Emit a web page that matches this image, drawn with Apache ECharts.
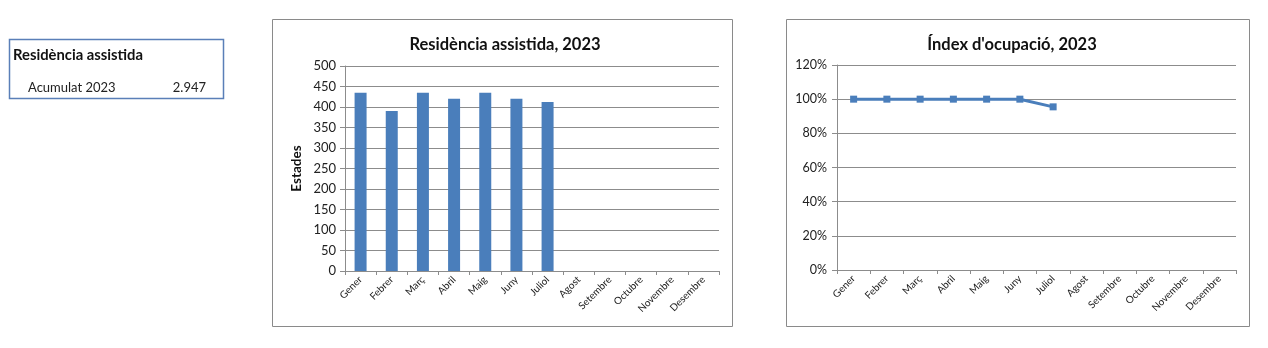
<!DOCTYPE html>
<html><head><meta charset="utf-8">
<script src="https://cdn.jsdelivr.net/npm/echarts@6/dist/echarts.min.js"></script>
<style>html,body{margin:0;padding:0;background:#fff}#c{width:1268px;height:348px}</style>
</head><body><div id="c"></div>
<script>
const months = ['Gener','Febrer','Març','Abril','Maig','Juny','Juliol','Agost','Setembre','Octubre','Novembre','Desembre'];
const estades = [435,390,435,420,435,420,412,null,null,null,null,null];
const ocupacio = [1,1,1,1,1,1,0.955,null,null,null,null,null];
const estadesTicks = [0,500,50];
const ocupTicks = [0,1.2,0.2];
const boxTitle = 'Residència assistida';
const accLabel = 'Acumulat 2023';
const barTitle = 'Residència assistida, 2023';
const lineTitle = "Índex d'ocupació, 2023";
const yName = 'Estades';

const total = estades.reduce((a,b)=>a+(b||0),0);
const totalTxt = total.toString().replace(/\B(?=(\d{3})+(?!\d))/g,'.');

const FONT = 'Lato';
const BLUE = '#4a7ebb';
const GRID = '#8c8c8c';

const chart = echarts.init(document.getElementById('c'), null, {renderer:'canvas'});
const xCommon = {
  type:'category', data:months, boundaryGap:true,
  axisLine:{show:true, lineStyle:{color:GRID}},
  axisTick:{show:true, alignWithLabel:false, length:4, lineStyle:{color:GRID}},
  axisLabel:{rotate:45, fontSize:10, color:'#222', fontFamily:FONT, margin:7, interval:0}
};
chart.setOption({
  animation:false,
  title:[
    {text:barTitle, left:500, top:31, textAlign:'center', textStyle:{fontSize:16.5, fontWeight:'bold', color:'#111', fontFamily:FONT}},
    {text:lineTitle, left:1007, top:31, textAlign:'center', textStyle:{fontSize:16.5, fontWeight:'bold', color:'#111', fontFamily:FONT}}
  ],
  graphic:[
    {type:'rect', shape:{x:9.5,y:39.5,width:214,height:59}, style:{fill:'none', stroke:'#5a7fb8', lineWidth:1.5}},
    {type:'text', x:13, y:48, style:{text:boxTitle, fill:'#111', fontSize:14.8, fontWeight:'bold', fontFamily:FONT}},
    {type:'text', x:28, y:81, style:{text:accLabel, fill:'#222', fontSize:13, fontFamily:FONT}},
    {type:'text', x:206, y:81, style:{text:totalTxt, fill:'#222', fontSize:13, fontFamily:FONT, align:'right'}},
    {type:'rect', shape:{x:272.5,y:19.5,width:460,height:307}, style:{fill:'none', stroke:'#8a8a8a', lineWidth:1}},
    {type:'rect', shape:{x:786.5,y:19.5,width:463,height:307}, style:{fill:'none', stroke:'#8a8a8a', lineWidth:1}}
  ],
  grid:[
    {left:345, right:549, top:66, bottom:77},
    {left:837, right:32, top:65, bottom:78}
  ],
  xAxis:[
    Object.assign({gridIndex:0}, xCommon),
    Object.assign({gridIndex:1}, xCommon)
  ],
  yAxis:[
    {gridIndex:0, type:'value', min:estadesTicks[0], max:estadesTicks[1], interval:estadesTicks[2],
     name:yName, nameLocation:'middle', nameGap:41, nameRotate:90,
     nameTextStyle:{fontSize:13.5, fontWeight:'bold', color:'#111', fontFamily:FONT},
     axisLine:{show:true, lineStyle:{color:GRID}},
     axisTick:{show:true, length:5, lineStyle:{color:GRID}},
     axisLabel:{fontSize:13, color:'#222', fontFamily:FONT, margin:9},
     splitLine:{show:true, lineStyle:{color:GRID, width:1}}},
    {gridIndex:1, type:'value', min:ocupTicks[0], max:ocupTicks[1], interval:ocupTicks[2],
     axisLine:{show:true, lineStyle:{color:GRID}},
     axisTick:{show:true, length:5, lineStyle:{color:GRID}},
     axisLabel:{fontSize:12.5, color:'#222', fontFamily:FONT, margin:10, formatter:v=>Math.round(v*100)+'%'},
     splitLine:{show:true, lineStyle:{color:GRID, width:1}}}
  ],
  series:[
    {type:'bar', xAxisIndex:0, yAxisIndex:0, data:estades, barWidth:12, itemStyle:{color:BLUE}},
    {type:'line', xAxisIndex:1, yAxisIndex:1, data:ocupacio, symbol:'rect', symbolSize:7,
     lineStyle:{color:BLUE, width:3}, itemStyle:{color:BLUE}, connectNulls:false}
  ]
});
</script></body></html>
